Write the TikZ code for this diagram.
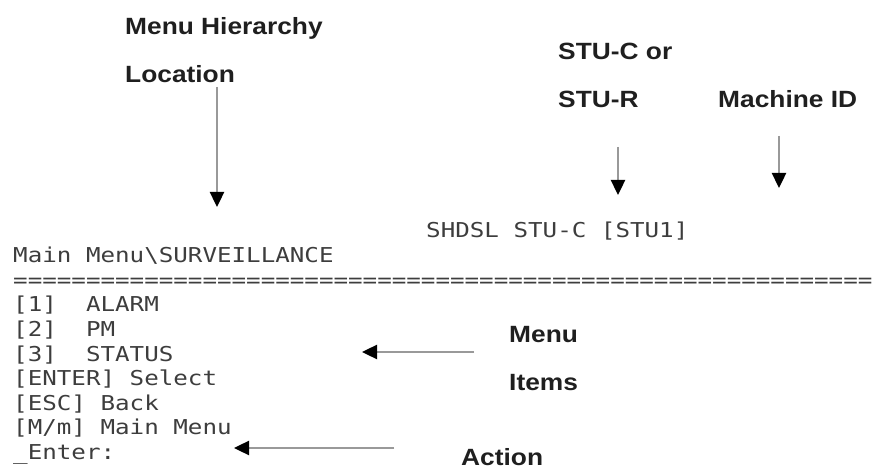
\documentclass[tikz,border=0pt]{standalone}
\usepackage{fontspec}
\usetikzlibrary{arrows.meta}
\newfontfamily\labelfont{Liberation Sans}
\newfontfamily\termfont{DejaVu Sans Mono}
\tikzset{
  callout/.style={font=\labelfont\bfseries\fontsize{23.5}{26}\selectfont, text=black!88,
    anchor=base west, inner sep=0pt, xscale=1.12},
  term/.style={font=\termfont\fontsize{20.5}{24.5}\selectfont, text=black!76,
    anchor=base west, inner sep=0pt, xscale=1.18},
  pointer/.style={draw=black!40, line width=2.4pt,
    -{Triangle[length=15pt, width=14pt, black]}}
}
\begin{document}
\begin{tikzpicture}[x=1pt, y=-1pt]
\useasboundingbox (0,0) rectangle (873,470);

% callout labels
\node[callout] (hier1) at (125,35) {Menu Hierarchy};
\node[callout] (hier2) at (125,83) {Location};
\node[callout] (stu1) at (558,60) {STU-C or};
\node[callout] (stu2) at (558,108) {STU-R};
\node[callout] (mid) at (718,108) {Machine ID};
\node[callout] (items1) at (509,342) {Menu};
\node[callout] (items2) at (509,390) {Items};
\node[callout] (act) at (461,465) {Action};

% terminal screen
\begin{scope}
\clip (0,0) rectangle (873,470);
\node[term] (hdr) at (426,237.5) {SHDSL\ STU-C\ [STU1]};
\node[term] (path) at (13,263) {Main\ Menu\textbackslash SURVEILLANCE};
\node[term] (rule) at (13,287.5) {=============================================================};
\node[term] (m1) at (13,312) {[1]\ \ ALARM};
\node[term] (m2) at (13,336.5) {[2]\ \ PM};
\node[term] (m3) at (13,361) {[3]\ \ STATUS};
\node[term] (m4) at (13,385.5) {[ENTER]\ Select};
\node[term] (m5) at (13,410) {[ESC]\ Back};
\node[term] (m6) at (13,434.5) {[M/m]\ Main\ Menu};
\node[term] (m7) at (13,459) {\_Enter:};
\end{scope}

% pointer ends
\coordinate (p1s) at (217,87);   \coordinate (p1e) at (217,207);
\coordinate (p2s) at (618,147);  \coordinate (p2e) at (618,195);
\coordinate (p3s) at (779,136);  \coordinate (p3e) at (779,188);
\coordinate (p4s) at (474,352);  \coordinate (p4e) at (362,352);
\coordinate (p5s) at (394,448);  \coordinate (p5e) at (234,448);

\draw[pointer] (p1s) -- (p1e);
\draw[pointer] (p2s) -- (p2e);
\draw[pointer] (p3s) -- (p3e);
\draw[pointer] (p4s) -- (p4e);
\draw[pointer] (p5s) -- (p5e);
\end{tikzpicture}
\end{document}
